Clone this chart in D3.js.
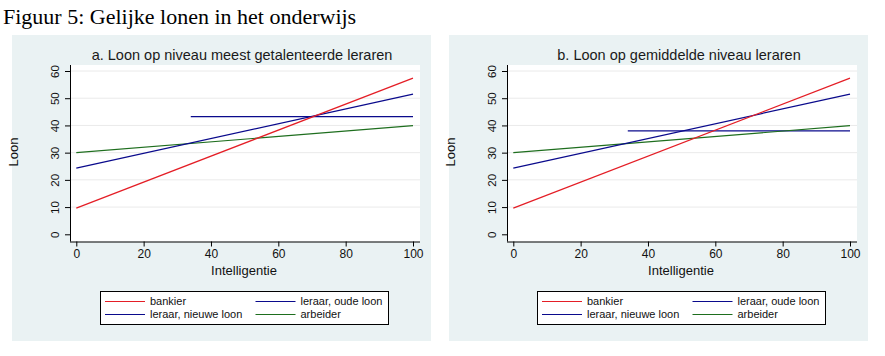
<!DOCTYPE html>
<html><head><meta charset="utf-8">
<script src="https://cdn.jsdelivr.net/npm/d3@7"></script>
<style>body{margin:0;background:#fff}svg{display:block}</style>
</head><body>
<svg id="c" width="885" height="356"></svg>
<script>
const figTitle = "Figuur 5: Gelijke lonen in het onderwijs";
const panelTitles = ["a. Loon op niveau meest getalenteerde leraren", "b. Loon op gemiddelde niveau leraren"];
const seriesNames = ["bankier", "leraar, oude loon", "leraar, nieuwe loon", "arbeider"];
const seriesColors = ["#e41e26", "#0a0a8c", "#0a0a8c", "#1e6e1e"];
const xTicks = [0, 20, 40, 60, 80, 100];
const yTicks = [0, 10, 20, 30, 40, 50, 60];
// line points [intelligentie, loon]
const bankier = [[0, 9.6], [100, 57.4]];
const leraarNieuw = [[0, 24.3], [100, 51.5]];
const arbeider = [[0, 30.0], [100, 39.9]];
const leraarOudA = [[34, 43.2], [100, 43.2]];
const leraarOudB = [[34, 38.0], [100, 38.0]];
const oudPerPanel = [leraarOudA, leraarOudB];

const svg = d3.select("#c");
svg.append("text").attr("x", 3).attr("y", 24)
  .attr("font-family", "Liberation Serif, Times New Roman, serif")
  .attr("font-size", 22).attr("fill", "#000").text(figTitle);

const sans = "Liberation Sans, Arial, sans-serif";

[0, 1].forEach(p => {
  const ox = p * 437;
  const g = svg.append("g").attr("transform", `translate(${ox},0)`);
  g.append("rect").attr("x", 12).attr("y", 35).attr("width", 419).attr("height", 306).attr("fill", "#eaf2f3");
  const x = d3.scaleLinear().domain([0, 100]).range([76.3, 413]);
  const y = d3.scaleLinear().domain([0, 60]).range([234.3, 71]);
  g.append("rect").attr("x", 70).attr("y", 65).attr("width", 350).attr("height", 176.5).attr("fill", "#fff");
  // gridlines
  g.append("g").selectAll("line").data(yTicks.filter(d => d > 0)).join("line")
    .attr("x1", 70).attr("x2", 420).attr("y1", d => y(d)).attr("y2", d => y(d))
    .attr("stroke", "#eaeaea").attr("stroke-width", 1);
  // title
  g.append("text").attr("x", 242).attr("y", 60).attr("text-anchor", "middle")
    .attr("font-family", sans).attr("font-size", 14.5).attr("fill", "#1a1a1a").text(panelTitles[p]);
  // y axis
  const ya = g.append("g").attr("transform", "translate(70,0)")
    .call(d3.axisLeft(y).tickValues(yTicks).tickSize(5).tickPadding(0).tickFormat(d3.format("d")));
  ya.select(".domain").attr("d", "M0.5,65V241.5").attr("stroke", "#000");
  ya.selectAll(".tick line").attr("stroke", "#000");
  ya.selectAll(".tick text").attr("transform", "translate(-15,0) rotate(-90)").attr("x", 0).attr("dy", "0.35em")
    .attr("text-anchor", "middle").attr("font-family", sans).attr("font-size", 11.5).attr("fill", "#111");
  // x axis
  const xa = g.append("g").attr("transform", "translate(0,241.5)")
    .call(d3.axisBottom(x).tickValues(xTicks).tickSize(5).tickPadding(3).tickFormat(d3.format("d")));
  xa.select(".domain").attr("d", "M70,0.5H420").attr("stroke", "#000");
  xa.selectAll(".tick line").attr("stroke", "#000");
  xa.selectAll(".tick text").attr("font-family", sans).attr("font-size", 12).attr("fill", "#111");
  g.append("text").attr("x", 244).attr("y", 275).attr("text-anchor", "middle")
    .attr("font-family", sans).attr("font-size", 13).attr("fill", "#111").text("Intelligentie");
  g.append("text").attr("transform", "translate(18,152) rotate(-90)").attr("text-anchor", "middle")
    .attr("font-family", sans).attr("font-size", 13).attr("fill", "#111").text("Loon");
  // lines
  const line = d3.line().x(d => x(d[0])).y(d => y(d[1]));
  const series = [
    {d: oudPerPanel[p], c: seriesColors[1]},
    {d: arbeider, c: seriesColors[3]},
    {d: leraarNieuw, c: seriesColors[2]},
    {d: bankier, c: seriesColors[0]}
  ];
  g.append("g").selectAll("path").data(series).join("path")
    .attr("d", s => line(s.d)).attr("fill", "none").attr("stroke", s => s.c).attr("stroke-width", 1.2);
  // legend
  const lg = g.append("g");
  lg.append("rect").attr("x", 100.5).attr("y", 291.5).attr("width", 288).attr("height", 33)
    .attr("fill", "#fff").attr("stroke", "#000").attr("stroke-width", 1);
  const items = [
    {n: seriesNames[0], c: seriesColors[0], col: 0, row: 0},
    {n: seriesNames[1], c: seriesColors[1], col: 1, row: 0},
    {n: seriesNames[2], c: seriesColors[2], col: 0, row: 1},
    {n: seriesNames[3], c: seriesColors[3], col: 1, row: 1}
  ];
  const it = lg.selectAll("g").data(items).join("g")
    .attr("transform", d => `translate(${d.col ? 255.5 : 105},${d.row ? 314.5 : 301.5})`);
  it.append("line").attr("x1", 0).attr("x2", 40).attr("stroke", d => d.c).attr("stroke-width", 1.2);
  it.append("text").attr("x", 45).attr("dy", "0.35em").attr("font-family", sans).attr("font-size", 11)
    .attr("fill", "#111").text(d => d.n);
});
</script>
</body></html>
